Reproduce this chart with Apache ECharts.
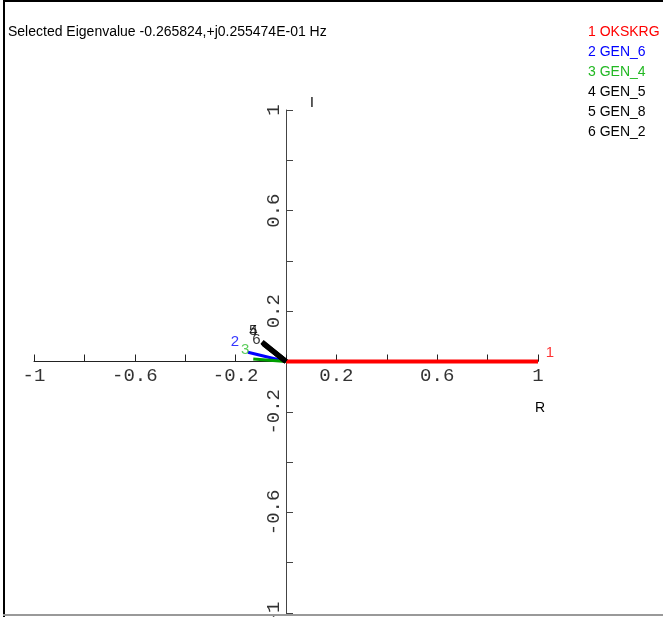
<!DOCTYPE html>
<html>
<head>
<meta charset="utf-8">
<script src="https://cdn.jsdelivr.net/npm/echarts@6/dist/echarts.min.js"></script>
<style>
html,body{margin:0;padding:0;background:#fff;}
#chart{width:663px;height:617px;}
</style>
</head>
<body>
<div id="chart"></div>
<script>
var names = ['1 OKSKRG', '2 GEN_6', '3 GEN_4', '4 GEN_5', '5 GEN_8', '6 GEN_2'];
var tags = ['1', '2', '3', '4', '5', '6'];
var realParts = [1.0, -0.151, -0.13, -0.09, -0.095, -0.094];
var imagParts = [0.0, 0.037, 0.01, 0.07, 0.078, 0.075];
var colors = ['#ff0000', '#0000ff', '#00a000', '#000000', '#000000', '#000000'];
var legendColors = ['#ff0000', '#0000ff', '#22b822', '#000000', '#000000', '#000000'];
var tagColors = ['#ff0000', '#0000ff', '#33c033', '#000000', '#000000', '#000000'];
var lineWidths = [4, 3, 3, 5, 5, 5];
var tagOffsets = [[12, -9], [-13, -10], [-8, -9], [-10, -13], [-9, -11], [-6, -3]];
var xTickLabels = ['-1', '-0.6', '-0.2', '0.2', '0.6', '1'];
var yTickLabels = ['-1', '-0.6', '-0.2', '0.2', '0.6', '1'];
var titleText = 'Selected Eigenvalue -0.265824,+j0.255474E-01 Hz';

var GRID_L = 34, GRID_R = 125, GRID_T = 110, GRID_B = 4, W = 663, H = 617;
var gridW = W - GRID_L - GRID_R, gridH = H - GRID_T - GRID_B;

var chart = echarts.init(document.getElementById('chart'), null, {renderer: 'canvas'});

function fmt(list) {
  return function (v) {
    var s = String(Math.round(v * 10) / 10);
    return list.indexOf(s) >= 0 ? s : '';
  };
}

var series = [];
for (var i = 0; i < names.length; i++) {
  series.push({
    type: 'line',
    name: names[i],
    data: [[0, 0], [realParts[i], imagParts[i]]],
    showSymbol: false,
    symbol: 'none',
    lineStyle: {color: colors[i], width: lineWidths[i], cap: 'butt'},
    animation: false,
    silent: true,
    z: 3 + i
  });
}
var tagData = [];
for (var j = 0; j < tags.length; j++) {
  tagData.push({
    value: [realParts[j], imagParts[j]],
    label: {
      show: true,
      formatter: tags[j],
      position: 'inside',
      offset: tagOffsets[j],
      color: tagColors[j],
      fontSize: 15,
      fontFamily: 'Liberation Sans, Arial, sans-serif'
    }
  });
}
series.push({
  type: 'scatter',
  data: tagData,
  symbolSize: 1,
  itemStyle: {color: 'rgba(0,0,0,0)'},
  animation: false,
  silent: true,
  z: 20
});

var FONT = '14px "Liberation Sans", Arial, sans-serif';
var graphics = [
  {type: 'rect', shape: {x: 3, y: 0, width: 2, height: 617}, style: {fill: '#000'}},
  {type: 'rect', shape: {x: 3, y: 0, width: 660, height: 2}, style: {fill: '#000'}},
  {type: 'rect', shape: {x: 3, y: 614, width: 660, height: 2}, style: {fill: '#999'}},
  {type: 'text', left: 8, top: 25, style: {text: titleText, fill: '#000', font: FONT}},
  {type: 'text', left: 535, top: 401, style: {text: 'R', fill: '#000', font: FONT}},
  {type: 'text', left: 310, top: 96, style: {text: 'I', fill: '#000', font: FONT}}
];
for (var k = 0; k < names.length; k++) {
  graphics.push({
    type: 'text', left: 588, top: 25 + k * 20,
    style: {text: names[k], fill: legendColors[k], font: FONT}
  });
}

chart.setOption({
  backgroundColor: '#fff',
  animation: false,
  grid: {left: GRID_L, right: GRID_R, top: GRID_T, bottom: GRID_B, containLabel: false, outerBoundsMode: 'none'},
  xAxis: {
    type: 'value', min: -1, max: 1, interval: 0.2,
    offset: -gridH / 2,
    axisLine: {show: true, onZero: false, lineStyle: {color: '#222', width: 1}},
    axisTick: {show: true, inside: true, length: 7, lineStyle: {color: '#222'}},
    axisLabel: {
      show: true, margin: 5, formatter: fmt(xTickLabels),
      color: '#333', fontSize: 19, fontFamily: 'Liberation Mono, monospace'
    },
    splitLine: {show: false}
  },
  yAxis: {
    type: 'value', min: -1, max: 1, interval: 0.2,
    offset: -gridW / 2,
    axisLine: {show: true, onZero: false, lineStyle: {color: '#444', width: 1}},
    axisTick: {show: true, inside: true, length: 7, lineStyle: {color: '#444'}},
    axisLabel: {
      show: true, margin: 3, rotate: 90, formatter: fmt(yTickLabels),
      color: '#333', fontSize: 19, fontFamily: 'Liberation Mono, monospace'
    },
    splitLine: {show: false}
  },
  series: series,
  graphic: graphics
});
</script>
</body>
</html>
